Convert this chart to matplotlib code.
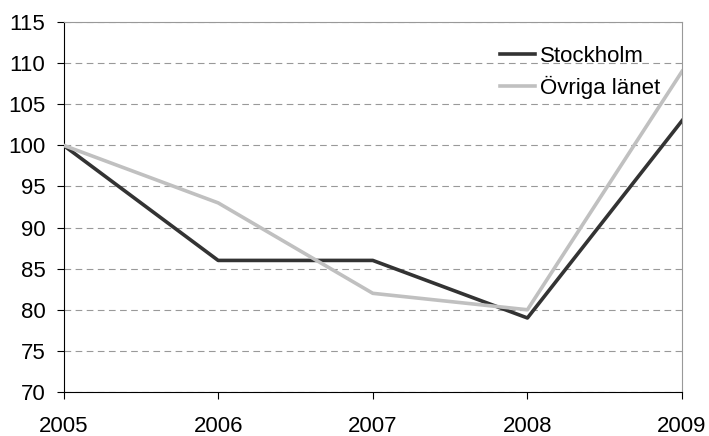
import matplotlib.pyplot as plt

years = [2005, 2006, 2007, 2008, 2009]
stockholm = [100, 86, 86, 79, 103]
ovriga = [100, 93, 82, 80, 109]

plt.rcParams['font.family'] = ['Liberation Sans', 'DejaVu Sans']

fig = plt.figure(figsize=(7.09, 4.36), dpi=100)
ax = fig.add_axes([0.0896, 0.101, 0.8724, 0.8485])

ax.plot(years, stockholm, color='#333333', linewidth=2.6, label='Stockholm', zorder=3)
ax.plot(years, ovriga, color='#c0c0c0', linewidth=2.6, label='Övriga länet', zorder=3)

ax.set_xlim(2005, 2009)
ax.set_ylim(70, 115)
ax.set_xticks(years)
ax.set_yticks(range(70, 116, 5))
ax.tick_params(axis='both', labelsize=16, direction='out', length=5, width=0.8)
ax.tick_params(axis='x', pad=12)
ax.tick_params(axis='y', pad=8)
ax.yaxis.grid(True, linestyle=(0, (6, 4)), color='#999999', linewidth=0.8)
ax.set_axisbelow(True)

for side in ('top', 'right'):
    ax.spines[side].set_color('#999999')
ax.spines['left'].set_color('black')
ax.spines['bottom'].set_color('black')

leg = ax.legend(loc='upper right', bbox_to_anchor=(0.965, 0.935), frameon=False,
                borderaxespad=0, borderpad=0,
                fontsize=16, handlelength=1.58, handletextpad=0.22, labelspacing=0.4)

plt.savefig('out.png', dpi=100)
